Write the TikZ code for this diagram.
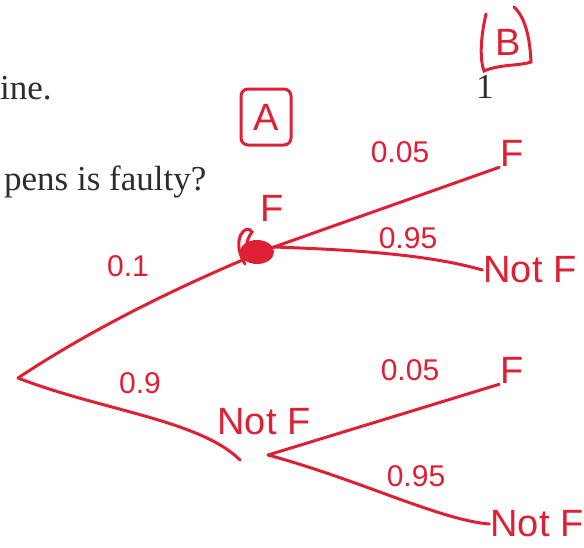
\documentclass[tikz,border=0pt]{standalone}
\usepackage{fontspec}
\setmainfont{Liberation Serif}
\newfontfamily\handfont{Liberation Sans}
\usepackage{tikz}
\usetikzlibrary{positioning, calc}
\definecolor{penred}{RGB}{222,32,52}
\definecolor{printgray}{RGB}{45,45,45}
\tikzset{
  outcome/.style={text=penred, inner sep=1pt,
    font=\handfont\fontsize{38}{40}\selectfont},
  prob/.style={text=penred, inner sep=1pt,
    font=\handfont\fontsize{30}{32}\selectfont},
  printed/.style={text=printgray, inner sep=0pt, anchor=base west,
    font=\fontsize{35}{37}\selectfont},
  branch/.style={draw=penred, line width=3pt, line cap=round},
  stagebox/.style={draw=penred, line width=3pt, rounded corners=7pt,
    minimum width=50pt, minimum height=56pt}
}

\begin{document}
\begin{tikzpicture}[x=1pt, y=-1pt]
  \useasboundingbox (0,0) rectangle (584,547);

  % Printed question text
  \node[printed] (line1) at (0, 99) {ine.};
  \node[printed] (line2) at (4, 190) {pens is faulty?};
  \node[printed] (one) at (476, 98) {1};

  % Stage labels
  \node[stagebox, outcome] (stageA) at (266, 117) {A};
  \node[outcome] (stageB) at (508, 42) {B};
  \draw[branch] (486, 14) .. controls (480, 40) and (480, 60) .. (484, 71)
    .. controls (500, 64) and (520, 66) .. (531, 62)
    .. controls (530, 40) and (526, 18) .. (514, 7);

  % Tree nodes
  \coordinate (root) at (18, 378);
  \node[outcome] (fA) at (272, 208) {F};
  \node[outcome] (nfA) at (264, 422) {Not F};
  \node[outcome] (fB1) at (512, 153) {F};
  \node[outcome] (nfB1) at (530, 270) {Not F};
  \node[outcome] (fB2) at (512, 370) {F};
  \node[outcome] (nfB2) at (537, 524) {Not F};

  % Scribble at the F node
  \fill[penred] (257, 252) ellipse (17pt and 12pt);
  \draw[branch] (245, 264) .. controls (230, 240) and (246, 222) .. (252, 232)
    .. controls (240, 248) and (250, 262) .. (262, 250);
  \coordinate (fJoin) at (274, 247);
  \coordinate (nfJoin) at (268, 455);

  % First stage
  \draw[branch] (root) .. controls (90, 330) and (180, 285) .. (fJoin);
  \draw[branch] (root) .. controls (100, 410) and (200, 420) .. (240, 460);
  \node[prob] (pF) at (128, 266) {0.1};
  \node[prob] (pNF) at (140, 383) {0.9};

  % Second stage after F
  \draw[branch] (fJoin) -- (fB1.south west);
  \draw[branch] (fJoin) .. controls (360, 250) and (430, 255) .. (nfB1.west);
  \node[prob] (pFF) at (400, 152) {0.05};
  \node[prob] (pFN) at (408, 238) {0.95};

  % Second stage after Not F
  \draw[branch] (nfJoin) -- (fB2.south west);
  \draw[branch] (nfJoin) .. controls (360, 480) and (440, 520) .. (nfB2.west);
  \node[prob] (pNFF) at (410, 370) {0.05};
  \node[prob] (pNFN) at (416, 476) {0.95};
\end{tikzpicture}
\end{document}
